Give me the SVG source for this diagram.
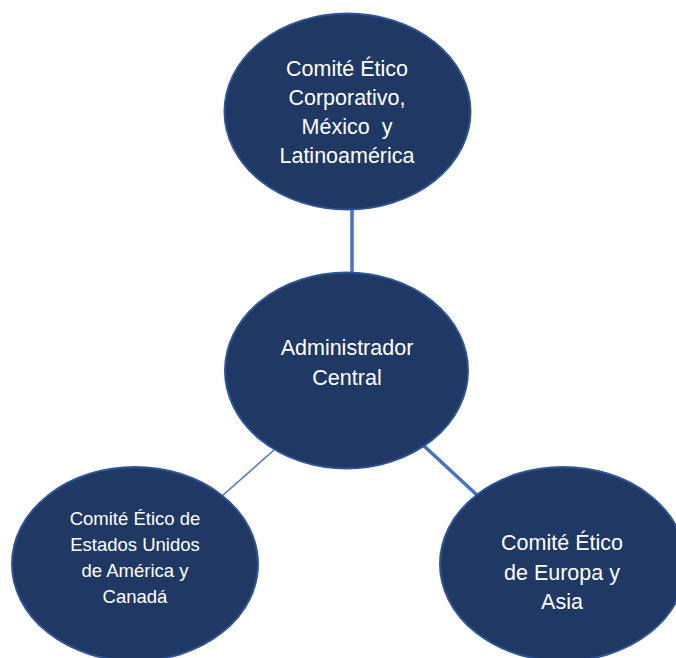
<svg xmlns="http://www.w3.org/2000/svg" width="676" height="658" viewBox="0 0 676 658">
<style>
.node{fill:#203864;stroke:#2F5597;stroke-width:2}
.lbl{font-family:"Liberation Sans",Arial,sans-serif;fill:#FFFFFF;text-anchor:middle;white-space:pre}
.big{font-size:21.5px}
.small{font-size:18.5px}
.conn{stroke:#4472C4;fill:none}
</style>
<rect width="676" height="658" fill="#FFFFFF"/>
<g id="connectors">
<line class="conn" x1="352" y1="209" x2="352" y2="273" stroke-width="3.5"/>
<line class="conn" x1="274" y1="450" x2="222" y2="496" stroke-width="1.5"/>
<line class="conn" x1="423" y1="445" x2="478" y2="496" stroke-width="3.5"/>
</g>
<g id="node-top">
<ellipse class="node" cx="347.5" cy="111.5" rx="123" ry="98"/>
<text class="lbl big" xml:space="preserve"><tspan x="347" y="76">Comité Ético</tspan><tspan x="347" y="105">Corporativo,</tspan><tspan x="347" y="134">México  y</tspan><tspan x="347" y="163">Latinoamérica</tspan></text>
</g>
<g id="node-center">
<ellipse class="node" cx="346.5" cy="370.5" rx="121.5" ry="98"/>
<text class="lbl big"><tspan x="347" y="355">Administrador</tspan><tspan x="347" y="385">Central</tspan></text>
</g>
<g id="node-left">
<ellipse class="node" cx="135" cy="564" rx="123" ry="97"/>
<text class="lbl small"><tspan x="135" y="525">Comité Ético de</tspan><tspan x="135" y="551">Estados Unidos</tspan><tspan x="135" y="577">de América y</tspan><tspan x="135" y="603">Canadá</tspan></text>
</g>
<g id="node-right">
<ellipse class="node" cx="563" cy="564" rx="123" ry="97"/>
<text class="lbl big"><tspan x="562" y="550">Comité Ético</tspan><tspan x="562" y="580">de Europa y</tspan><tspan x="562" y="609">Asia</tspan></text>
</g>
</svg>
